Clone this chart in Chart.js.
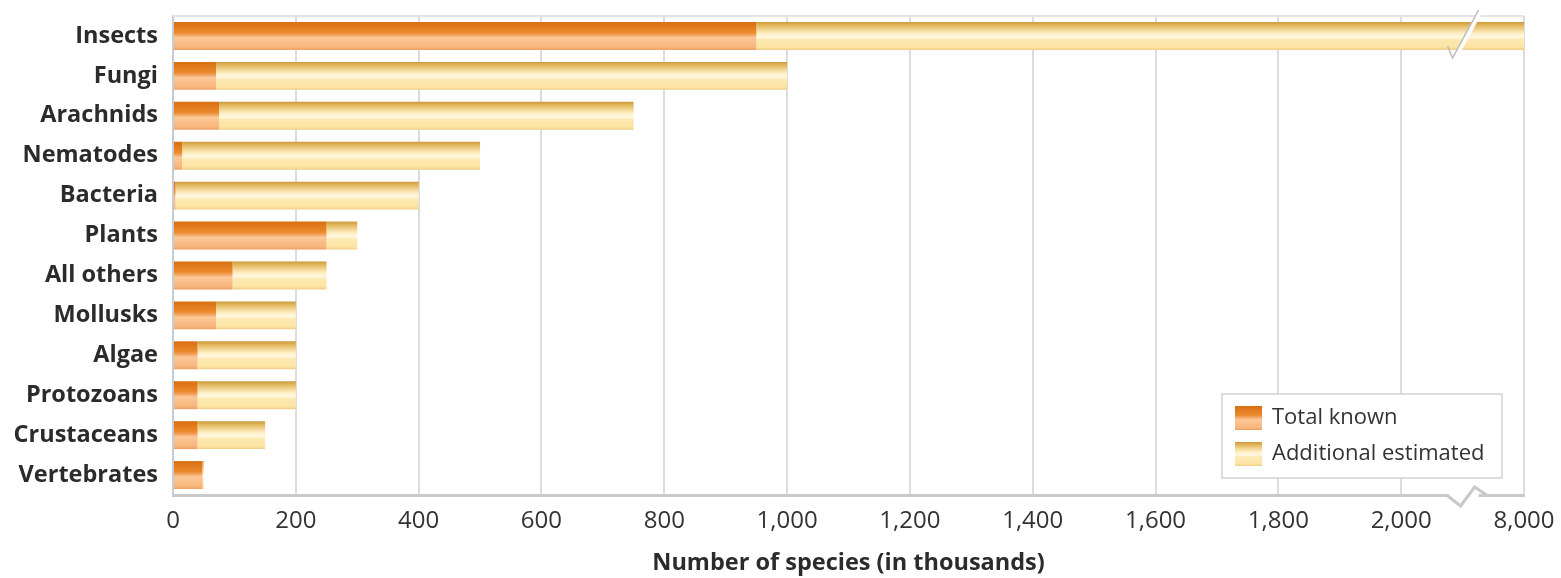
<!DOCTYPE html>
<html>
<head>
<meta charset="utf-8">
<script src="https://cdn.jsdelivr.net/npm/chart.js@4.4.1/dist/chart.umd.min.js"></script>
<style>
  html, body { margin: 0; padding: 0; background: #ffffff; }
  #wrap { width: 1561px; height: 578px; position: relative; }
</style>
</head>
<body>
<div id="wrap"><canvas id="chart" width="1561" height="578"></canvas></div>
<script>
// Species groups, top to bottom
const categories = ['Insects', 'Fungi', 'Arachnids', 'Nematodes', 'Bacteria', 'Plants',
  'All others', 'Mollusks', 'Algae', 'Protozoans', 'Crustaceans', 'Vertebrates'];

// Number of species, in thousands
const totalKnown = [950, 70, 75, 15, 4, 250, 97, 70, 40, 40, 40, 48];
const additionalEstimated = [7050, 930, 675, 485, 396, 50, 153, 130, 160, 160, 110, 2];

// Axis is broken between 2,000 and 8,000: the last tick position stands for 8,000
const xTickValues = [0, 200, 400, 600, 800, 1000, 1200, 1400, 1600, 1800, 2000, 2200];
const xTickLabels = ['0', '200', '400', '600', '800', '1,000', '1,200', '1,400', '1,600', '1,800', '2,000', '8,000'];

const FONT = '"Open Sans", Lato, "DejaVu Sans", sans-serif';
const BAR_FRACTION = 0.7;

const knownStops = [[0, '#d86e12'], [0.38, '#eb8a2e'], [0.5, '#f5ae74'], [0.56, '#fbc896'], [0.9, '#f8b57c'], [1, '#eda061']];
const estimatedStops = [[0, '#cc9a3a'], [0.15, '#e6bd66'], [0.42, '#fff0c8'], [0.55, '#fff7e0'], [0.62, '#fde9b2'], [0.9, '#fce4a2'], [1, '#efcd86']];

function gradient(ctx, top, bottom, stops) {
  const g = ctx.createLinearGradient(0, top, 0, bottom);
  stops.forEach(s => g.addColorStop(s[0], s[1]));
  return g;
}

function barFill(stops, fallback) {
  return function (c) {
    const chart = c.chart;
    if (!chart.chartArea || c.dataIndex === undefined) return fallback;
    const y = chart.scales.y;
    const center = y.getPixelForValue(c.dataIndex);
    const half = (y.getPixelForValue(1) - y.getPixelForValue(0)) * BAR_FRACTION / 2;
    return gradient(chart.ctx, center - half, center + half, stops);
  };
}

// Axis break marks, frame line and the boxed legend
const decorations = {
  id: 'decorations',
  beforeDatasetsDraw(chart) {
    const { ctx, chartArea: a } = chart;
    ctx.save();
    ctx.strokeStyle = '#e4e4e4';
    ctx.lineWidth = 2;
    ctx.beginPath();
    ctx.moveTo(a.left, a.top);
    ctx.lineTo(a.right, a.top);
    ctx.stroke();
    ctx.restore();
  },
  afterDatasetsDraw(chart) {
    const { ctx, chartArea: a, scales } = chart;
    const bx = scales.x.getPixelForValue(2100);
    const yc = scales.y.getPixelForValue(0);
    const half = (scales.y.getPixelForValue(1) - yc) * BAR_FRACTION / 2;

    // slash across the broken bar
    ctx.save();
    const t = yc - half - 12, b = yc + half + 8;
    const dx = 10, w = 5;
    ctx.fillStyle = '#ffffff';
    ctx.beginPath();
    ctx.moveTo(bx - dx, b);
    ctx.lineTo(bx + dx + 6, t);
    ctx.lineTo(bx + dx + 6 + w, t);
    ctx.lineTo(bx - dx + w, b);
    ctx.closePath();
    ctx.fill();
    ctx.strokeStyle = '#bdbdbd';
    ctx.lineWidth = 1.5;
    ctx.beginPath();
    ctx.moveTo(bx - dx - 5, b - 12);
    ctx.lineTo(bx - dx, b);
    ctx.lineTo(bx + dx + 6, t);
    ctx.stroke();
    ctx.restore();

    // zigzag on the bottom axis
    const ay = a.bottom;
    ctx.save();
    ctx.fillStyle = '#ffffff';
    ctx.fillRect(bx - 14, ay - 3, 30, 7);
    ctx.strokeStyle = '#c9c9c9';
    ctx.lineWidth = 3;
    ctx.lineJoin = 'miter';
    ctx.beginPath();
    ctx.moveTo(bx - 16, ay);
    ctx.lineTo(bx - 2, ay + 11);
    ctx.lineTo(bx + 12, ay - 8);
    ctx.lineTo(bx + 24, ay);
    ctx.stroke();
    ctx.restore();

    // legend box
    const boxR = a.right - 22, boxB = a.bottom - 17;
    const boxW = 280, boxH = 84;
    const boxL = boxR - boxW, boxT = boxB - boxH;
    ctx.save();
    ctx.fillStyle = '#ffffff';
    ctx.strokeStyle = '#d2d2d2';
    ctx.lineWidth = 1.5;
    ctx.fillRect(boxL, boxT, boxW, boxH);
    ctx.strokeRect(boxL, boxT, boxW, boxH);
    const items = [
      { label: chart.data.datasets[0].label, stops: knownStops },
      { label: chart.data.datasets[1].label, stops: estimatedStops }
    ];
    items.forEach((it, i) => {
      const cy = boxT + 24 + i * 36;
      const sx = boxL + 13, sw = 27, sh = 24;
      ctx.fillStyle = gradient(ctx, cy - sh / 2, cy + sh / 2, it.stops);
      ctx.fillRect(sx, cy - sh / 2, sw, sh);
      ctx.fillStyle = '#333333';
      ctx.font = '22px ' + FONT;
      ctx.textBaseline = 'middle';
      ctx.textAlign = 'left';
      ctx.fillText(it.label, sx + sw + 10, cy);
    });
    ctx.restore();
  }
};

new Chart(document.getElementById('chart'), {
  type: 'bar',
  data: {
    labels: categories,
    datasets: [
      {
        label: 'Total known',
        data: totalKnown,
        backgroundColor: barFill(knownStops, '#eb8a2e'),
        borderWidth: 0,
        categoryPercentage: BAR_FRACTION,
        barPercentage: 1.0
      },
      {
        label: 'Additional estimated',
        data: additionalEstimated,
        backgroundColor: barFill(estimatedStops, '#fde9b2'),
        borderWidth: 0,
        categoryPercentage: BAR_FRACTION,
        barPercentage: 1.0
      }
    ]
  },
  options: {
    indexAxis: 'y',
    responsive: false,
    animation: false,
    layout: { padding: { top: 16, right: 37, left: 0, bottom: 0 } },
    plugins: {
      legend: { display: false },
      tooltip: { enabled: false }
    },
    scales: {
      x: {
        stacked: true,
        min: 0,
        max: 2200,
        afterBuildTicks(scale) {
          scale.ticks = xTickValues.map(v => ({ value: v }));
        },
        afterFit(scale) {
          scale.height = 83;
          scale.paddingLeft = 0;
          scale.paddingRight = 0;
        },
        ticks: {
          autoSkip: false,
          maxRotation: 0,
          padding: 12,
          color: '#333333',
          font: { family: FONT, size: 24 },
          callback(value) {
            const i = xTickValues.indexOf(value);
            return i >= 0 ? xTickLabels[i] : '';
          }
        },
        grid: { color: '#dcdcdc', lineWidth: 2, drawTicks: false },
        border: { display: true, color: '#c9c9c9', width: 3 },
        title: {
          display: true,
          text: 'Number of species (in thousands)',
          color: '#2b2b2b',
          font: { family: FONT, size: 23.5, weight: 'bold' },
          padding: { top: 0, bottom: 1 }
        }
      },
      y: {
        stacked: true,
        afterFit(scale) {
          scale.width = 173;
          scale.paddingTop = 0;
          scale.paddingBottom = 0;
        },
        ticks: {
          padding: 15,
          color: '#2b2b2b',
          font: { family: FONT, size: 23.5, weight: 'bold' }
        },
        grid: { display: true, color: 'rgba(0,0,0,0)', drawTicks: false },
        border: { display: true, color: '#c5ccd4', width: 2 }
      }
    }
  },
  plugins: [decorations]
});
</script>
</body>
</html>
